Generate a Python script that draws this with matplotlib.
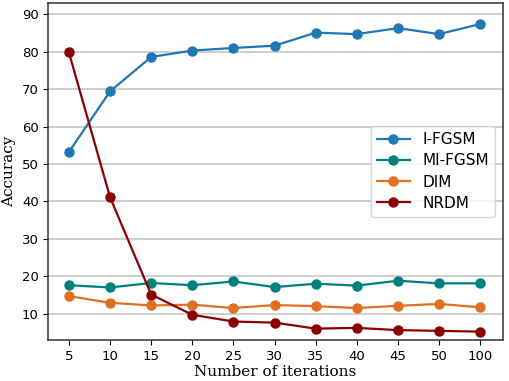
import matplotlib
matplotlib.use("Agg")
import matplotlib.pyplot as plt

# iterações (eixo x categórico)
iterations = ['5', '10', '15', '20', '25', '30', '35', '40', '45', '50', '100']

i_fgsm = [53.2, 69.4, 78.6, 80.3, 81.0, 81.6, 85.1, 84.7, 86.3, 84.7, 87.4]
mi_fgsm = [17.6, 17.0, 18.2, 17.6, 18.6, 17.1, 18.0, 17.5, 18.8, 18.1, 18.1]
dim = [14.7, 12.9, 12.2, 12.4, 11.5, 12.3, 12.0, 11.5, 12.1, 12.6, 11.7]
nrdm = [79.8, 41.1, 15.1, 9.7, 7.9, 7.6, 6.0, 6.2, 5.6, 5.4, 5.2]

x = list(range(len(iterations)))

fig, ax = plt.subplots(figsize=(5.09, 3.81), dpi=100)

ax.plot(x, i_fgsm, marker='o', markersize=6.5, linewidth=1.6, color='#1f77b4', label='I-FGSM')
ax.plot(x, mi_fgsm, marker='o', markersize=6.5, linewidth=1.6, color='#008080', label='MI-FGSM')
ax.plot(x, dim, marker='o', markersize=6.5, linewidth=1.6, color='#e07020', label='DIM')
ax.plot(x, nrdm, marker='o', markersize=6.5, linewidth=1.6, color='#8b0000', label='NRDM')

ax.set_xticks(x)
ax.set_xticklabels(iterations)
ax.set_xlim(-0.5, 10.55)
ax.set_ylim(3, 93)
ax.set_yticks([10, 20, 30, 40, 50, 60, 70, 80, 90])
ax.tick_params(labelsize=9.5)

for s in ax.spines.values():
    s.set_color('#333333')
    s.set_linewidth(1.1)

ax.yaxis.grid(True, color='#cccccc', linewidth=1.3)
ax.set_axisbelow(True)

ax.set_xlabel('Number of iterations', fontsize=11, family='DejaVu Serif', labelpad=2)
ax.set_ylabel('Accuracy', fontsize=11, family='DejaVu Serif', labelpad=4)

ax.legend(loc='center right', fontsize=11, labelspacing=0.4, handlelength=2.2)

plt.subplots_adjust(left=0.095, right=0.988, top=0.992, bottom=0.108)
plt.savefig('out.png', dpi=100)
